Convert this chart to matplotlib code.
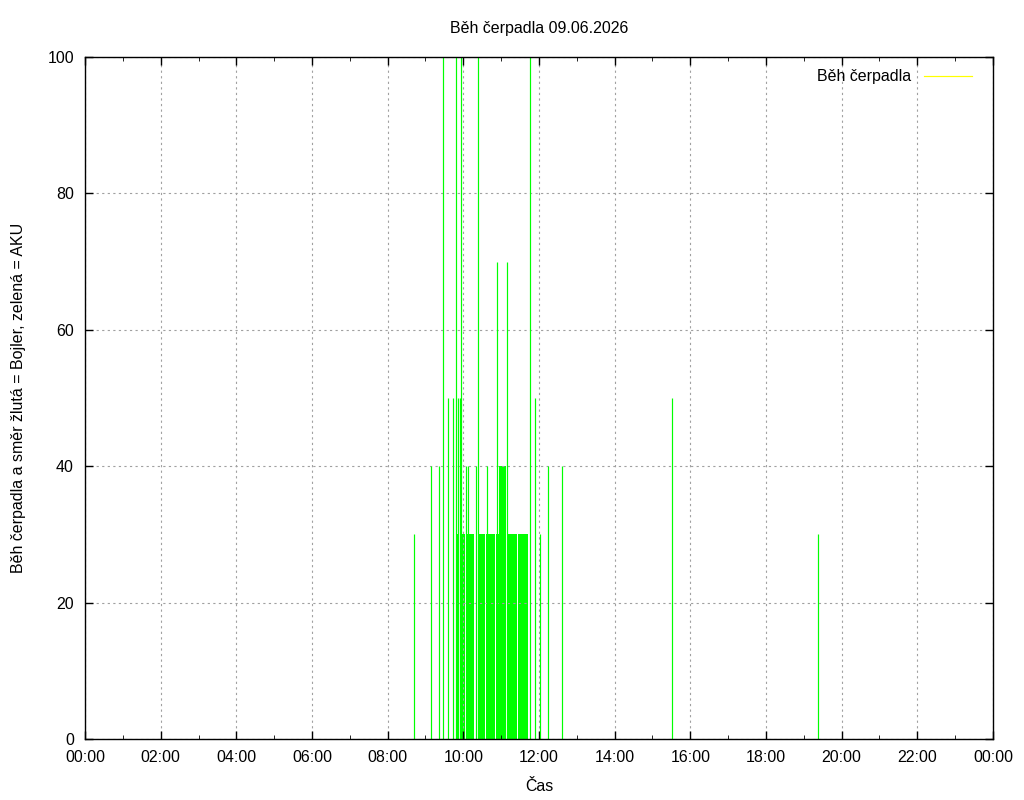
import matplotlib
import numpy as np
import matplotlib.pyplot as plt

matplotlib.use("Agg")

plt.rcParams['font.family'] = ['Liberation Sans', 'DejaVu Sans']

# jednotlivé impulzy (čas, hodnota)
pulse_times = ["08:41", "09:08", "09:21", "09:28", "09:36", "09:44", "09:49", "09:52",
               "09:55", "09:57", "10:05", "10:08", "10:20", "10:24", "10:37", "10:53",
               "11:10", "11:45", "11:53", "12:02", "12:14", "12:37", "15:31", "19:22"]
pulse_values = [30, 40, 40, 100, 50, 50, 100, 50,
                50, 100, 40, 40, 40, 100, 40, 70,
                70, 100, 50, 30, 40, 40, 50, 30]

# husté úseky (začátek, konec, hodnota)
block_start = ["09:49", "09:57", "10:05", "10:20", "10:24", "10:36", "10:52", "10:57", "11:10", "11:27", "11:45"]
block_end = ["09:53", "10:03", "10:17", "10:22", "10:34", "10:50", "10:56", "11:08", "11:25", "11:43", "11:47"]
block_values = [30, 30, 30, 30, 30, 30, 30, 40, 30, 30, 30]

x_ticks = list(range(0, 25, 2))
x_labels = ["%02d:00" % (h % 24) for h in x_ticks]


def to_h(s):
    h, m = s.split(":")
    return int(h) + int(m) / 60.0


px = 72.0 / 100
fs = 11.5
fig = plt.figure(figsize=(10.24, 8), dpi=100)
ax = fig.add_axes([85 / 1024, 61 / 800, 908 / 1024, 682 / 800])

green = "#00ff00"
bs = np.array([to_h(s) for s in block_start])
be = np.array([to_h(s) for s in block_end])
ax.bar(bs, block_values, width=be - bs, align='edge', color=green, linewidth=0)
ax.vlines([to_h(t) for t in pulse_times], 0, pulse_values, colors=green, linewidth=1.2 * px)

ax.plot([], [], color="#ffff00", linewidth=1.2 * px, label="Běh čerpadla")

ax.set_xlim(0, 24)
ax.set_ylim(0, 100)
ax.set_xticks(x_ticks)
ax.set_xticklabels(x_labels)
ax.set_xticks(range(1, 24, 2), minor=True)
ax.set_yticks(range(0, 101, 20))
ax.tick_params(direction='in', top=True, right=True, labelsize=fs, length=6, width=1, pad=8)
ax.tick_params(which='minor', direction='in', top=True, length=3)
ax.grid(True, which='major', color='#a0a0a0', linestyle=(0, (2, 3)), linewidth=0.8)
for s in ax.spines.values():
    s.set_linewidth(1)

ax.set_title("Běh čerpadla 09.06.2026", fontsize=fs, pad=17)
ax.set_xlabel("Čas", fontsize=fs, labelpad=10)
ax.set_ylabel("Běh čerpadla a směr žlutá = Bojler, zelená = AKU", fontsize=fs, labelpad=15)
leg = ax.legend(loc='upper right', bbox_to_anchor=(1 - 11 / 908, 1 - 2 / 682), frameon=False,
                markerfirst=False, fontsize=fs, handlelength=3.0, borderaxespad=0.25)

plt.savefig("out.png")
plt.close()
